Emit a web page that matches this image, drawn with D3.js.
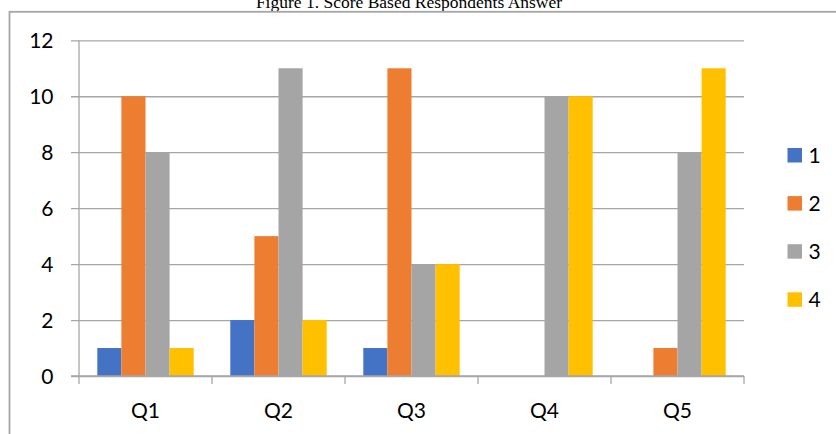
<!DOCTYPE html>
<html>
<head>
<meta charset="utf-8">
<script src="https://cdn.jsdelivr.net/npm/d3@7"></script>
<style>
  html, body { margin: 0; padding: 0; background: #fff; }
  svg { display: block; }
</style>
</head>
<body>
<svg id="chart" width="836" height="434"></svg>
<script>
// Questions on the x axis and one value array per score
const categories = ["Q1", "Q2", "Q3", "Q4", "Q5"];
const seriesNames = ["1", "2", "3", "4"];
const score1 = [1, 2, 1, 0, 0];
const score2 = [10, 5, 11, 0, 1];
const score3 = [8, 11, 4, 10, 8];
const score4 = [1, 2, 4, 10, 11];
const yTicks = [0, 2, 4, 6, 8, 10, 12];
const colors = ["#4472C4", "#ED7D31", "#A5A5A5", "#FFC000"];
const titleText = "Figure 1. Score Based Respondents Answer";

const seriesValues = [score1, score2, score3, score4];
const rows = categories.map((c, i) => ({
  cat: c,
  vals: seriesNames.map((s, k) => ({ key: s, value: seriesValues[k][i], idx: k }))
}));

const svg = d3.select("#chart");
const plot = { left: 79, right: 744, top: 40.3, bottom: 376 };
const labelFont = "Lato, 'Open Sans', sans-serif";

// Title (partly above the frame)
svg.append("text")
  .attr("x", 409).attr("y", 7.7)
  .attr("text-anchor", "middle")
  .attr("font-family", "'Liberation Serif', 'Times New Roman', serif")
  .attr("font-size", 17.5)
  .attr("fill", "#000")
  .text(titleText);

// Outer chart frame
svg.append("rect")
  .attr("x", 9.5).attr("y", 11.8)
  .attr("width", 900).attr("height", 500)
  .attr("fill", "none")
  .attr("stroke", "#a6a6a6")
  .attr("stroke-width", 1.8);

const x0 = d3.scaleBand().domain(categories).range([plot.left, plot.right]).paddingInner(0).paddingOuter(0);
const groupPad = 18.3;
const x1 = d3.scaleBand().domain(seriesNames).range([groupPad, x0.bandwidth() - groupPad]).padding(0);
const y = d3.scaleLinear().domain([0, 12]).range([plot.bottom, plot.top]);

// Horizontal gridlines with the left tick stubs
const yAxis = d3.axisLeft(y).tickValues(yTicks).tickSize(-(plot.right - plot.left)).tickSizeOuter(0).tickFormat("");
const gy = svg.append("g").attr("transform", `translate(${plot.left},0)`).call(yAxis);
gy.select(".domain").remove();
gy.selectAll(".tick line").attr("stroke", "#a6a6a6").attr("stroke-width", 1.3)
  .attr("x1", -8);

// Y tick labels
svg.append("g").selectAll("text").data(yTicks).join("text")
  .attr("x", 53.5).attr("y", d => y(d))
  .attr("dy", "0.36em")
  .attr("text-anchor", "end")
  .attr("font-family", labelFont).attr("font-size", 21)
  .attr("fill", "#000")
  .text(d => d);

// Bars
svg.append("g").selectAll("g").data(rows).join("g")
  .attr("transform", d => `translate(${x0(d.cat)},0)`)
  .selectAll("rect").data(d => d.vals).join("rect")
  .attr("x", d => x1(d.key))
  .attr("width", x1.bandwidth())
  .attr("y", d => y(d.value))
  .attr("height", d => y(0) - y(d.value))
  .attr("fill", d => colors[d.idx]);

// Y axis line
svg.append("line")
  .attr("x1", plot.left).attr("x2", plot.left)
  .attr("y1", plot.top).attr("y2", plot.bottom)
  .attr("stroke", "#a6a6a6").attr("stroke-width", 1.3);

// X axis with category separators
const xAxis = d3.axisBottom(x0).tickValues([]).tickSizeOuter(0);
const gx = svg.append("g").attr("transform", `translate(0,${plot.bottom})`).call(xAxis);
gx.select(".domain").attr("stroke", "#a6a6a6").attr("stroke-width", 1.3)
  .attr("d", `M${plot.left - 8},0H${plot.right}`);
const bounds = categories.map(c => x0(c)).concat([plot.right]);
gx.selectAll("line.sep").data(bounds).join("line")
  .attr("class", "sep")
  .attr("x1", d => d).attr("x2", d => d)
  .attr("y1", 0).attr("y2", 8)
  .attr("stroke", "#a6a6a6").attr("stroke-width", 1.3);

// Category labels
svg.append("g").selectAll("text").data(categories).join("text")
  .attr("x", d => x0(d) + x0.bandwidth() / 2)
  .attr("y", 418)
  .attr("text-anchor", "middle")
  .attr("font-family", labelFont).attr("font-size", 21)
  .attr("fill", "#000")
  .text(d => d);

// Legend
const legend = svg.append("g").selectAll("g").data(seriesNames).join("g")
  .attr("transform", (d, i) => `translate(787.5,${155.3 + i * 48.1})`);
legend.append("rect")
  .attr("x", 0).attr("y", -7.3)
  .attr("width", 14.5).attr("height", 14.5)
  .attr("fill", (d, i) => colors[i]);
legend.append("text")
  .attr("x", 21).attr("y", 0)
  .attr("dy", "0.36em")
  .attr("font-family", labelFont).attr("font-size", 21)
  .attr("fill", "#000")
  .text(d => d);
</script>
</body>
</html>
